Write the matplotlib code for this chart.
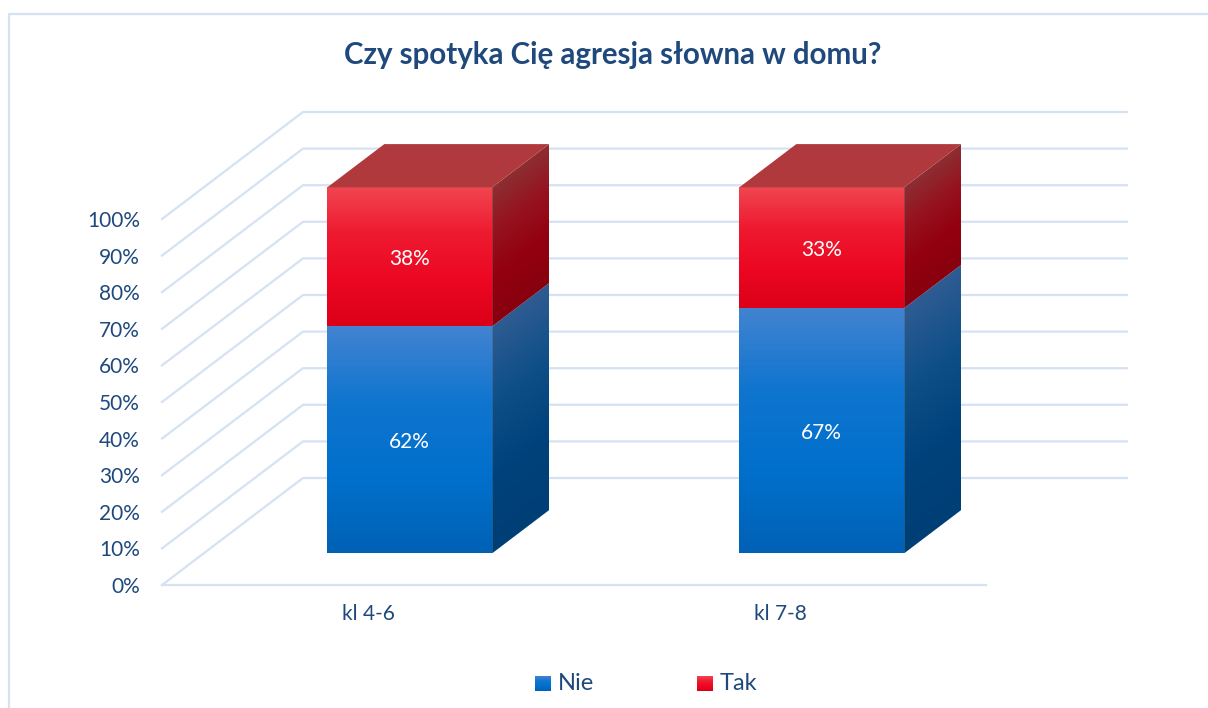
import numpy as np
import matplotlib
matplotlib.use('Agg')
import matplotlib.pyplot as plt
from matplotlib.colors import LinearSegmentedColormap
from matplotlib.lines import Line2D
from matplotlib.patches import Polygon

W, H = 1208, 708
categories = ['kl 4-6', 'kl 7-8']
nie = [62, 67]
tak = [38, 33]
y_ticks = [0, 10, 20, 30, 40, 50, 60, 70, 80, 90, 100]
title = 'Czy spotyka Cię agresja słowna w domu?'

TEXT = '#1f497d'
GRID = '#d5e2f4'
plt.rcParams['font.family'] = ['Lato', 'DejaVu Sans']

# axes = front edge of the floor, 0-100% on the left
X0, X1, Y0, Y100 = 162, 986, 585, 219
UX = 2 / (X1 - X0)    # data per pixel
UY = 100 / (Y0 - Y100)
DEPTH_X = 141 * UX    # full depth of the 3d box
DEPTH_Y = 107 * UY
BAR_D0, BAR_D1 = 0.296, 0.70   # bars sit in the middle of the depth
BAR_W = 0.40

fig = plt.figure(figsize=(W / 100, H / 100), dpi=100)
ax = fig.add_axes([X0 / W, 1 - Y0 / H, (X1 - X0) / W, (Y0 - Y100) / H])


def shift(x, y, d):
    return x + d * DEPTH_X, y + d * DEPTH_Y


def grad_poly(pts, colors, rise=0.0, z=3):
    # gradient image clipped to a polygon, top to bottom
    # rise = part of the bbox height the shape climbs to the right (side faces)
    pts = np.array(pts)
    cmap = LinearSegmentedColormap.from_list('g', colors)
    yy, xx = np.mgrid[0:1:300j, 0:1:300j]
    t = (yy - (1 - xx) * rise) / (1 - rise)
    poly = Polygon(pts, closed=True, fc='none', ec='none', transform=ax.transData, clip_on=False)
    ax.add_patch(poly)
    ext = [pts[:, 0].min(), pts[:, 0].max(), pts[:, 1].min(), pts[:, 1].max()]
    im = ax.imshow(np.clip(t, 0, 1), cmap=cmap, extent=ext, aspect='auto', origin='upper',
                   zorder=z, interpolation='bilinear', vmin=0, vmax=1)
    im.set_clip_box(fig.bbox)
    im.set_clip_path(poly)


def box(x, bottom, height, front, side, top=None):
    xl, xr = x - BAR_W / 2, x + BAR_W / 2
    yb, yt = bottom, bottom + height
    fl = [shift(xl, yb, BAR_D0), shift(xr, yb, BAR_D0), shift(xr, yt, BAR_D0), shift(xl, yt, BAR_D0)]
    sd = [shift(xr, yb, BAR_D0), shift(xr, yb, BAR_D1), shift(xr, yt, BAR_D1), shift(xr, yt, BAR_D0)]
    grad_poly(fl, front)
    climb = (BAR_D1 - BAR_D0) * DEPTH_Y
    grad_poly(sd, side, rise=climb / (climb + height))
    if top is not None:
        tp = [shift(xl, yt, BAR_D0), shift(xr, yt, BAR_D0), shift(xr, yt, BAR_D1), shift(xl, yt, BAR_D1)]
        ax.add_patch(Polygon(tp, closed=True, fc=top, ec='none', zorder=3, clip_on=False))
    cx, cy = shift(x, yb + height / 2, BAR_D0)
    ax.text(cx, cy - 2 * UY, f'{height}%', color='white', fontsize=15, ha='center', va='center', zorder=5)


# walls
for v in y_ticks:
    bx, by = shift(-0.5, v, 1)
    ax.plot([-0.5, bx, 1.5 + DEPTH_X], [v, by, by], color=GRID, lw=1.6, clip_on=False, zorder=1,
            solid_joinstyle='round')
ax.plot([-0.5, 1.5], [0, 0], color=GRID, lw=1.6, clip_on=False, zorder=1)

BLUE_F = ['#4383d1', '#0f75cf', '#0070cc', '#0061b5']
BLUE_S = ['#2f5c92', '#0f4f88', '#00427c', '#003f75']
RED_F = ['#f04650', '#ee1a30', '#ec0722', '#dc0018']
RED_S = ['#8c2f33', '#96121f', '#93000f', '#88000f']
RED_T = '#b0393d'

for i, cat in enumerate(categories):
    box(i, 0, nie[i], BLUE_F, BLUE_S)
    box(i, nie[i], tak[i], RED_F, RED_S, top=RED_T)

ax.set_xlim(-0.5, 1.5)
ax.set_ylim(0, 100)
ax.set_xticks(range(len(categories)))
ax.set_xticklabels(categories, color=TEXT, fontsize=15)
ax.set_yticks(y_ticks)
ax.set_yticklabels([f'{v}%' for v in y_ticks], color=TEXT, fontsize=15)
ax.tick_params(axis='x', length=0, pad=14)
ax.tick_params(axis='y', length=0, pad=16)
for s in ax.spines.values():
    s.set_visible(False)
ax.patch.set_alpha(0)

fig.text(613 / W, 1 - 55 / H, title, color=TEXT, fontsize=21.25, fontweight='bold', ha='center', va='center')

# chart border, only top and left show
fig.add_artist(Line2D([9 / W, 9 / W, 1], [0, 1 - 14 / H, 1 - 14 / H], color=GRID, lw=1.6))


def legend_item(px, label, colors):
    # swatch given in pixels, drawn through the data scale
    x0 = -0.5 + (px - X0) * UX
    x1 = x0 + 16 * UX
    y0 = (Y0 - 691) * UY
    y1 = (Y0 - 676) * UY
    grad_poly([(x0, y0), (x1, y0), (x1, y1), (x0, y1)], colors)
    ax.text(x1 + 7 * UX, (y0 + y1) / 2, label, color=TEXT, fontsize=17, ha='left', va='center', clip_on=False)


legend_item(535, 'Nie', BLUE_F)
legend_item(697, 'Tak', RED_F)
ax.set_xlim(-0.5, 1.5)
ax.set_ylim(0, 100)

fig.savefig('out.png', dpi=100)
